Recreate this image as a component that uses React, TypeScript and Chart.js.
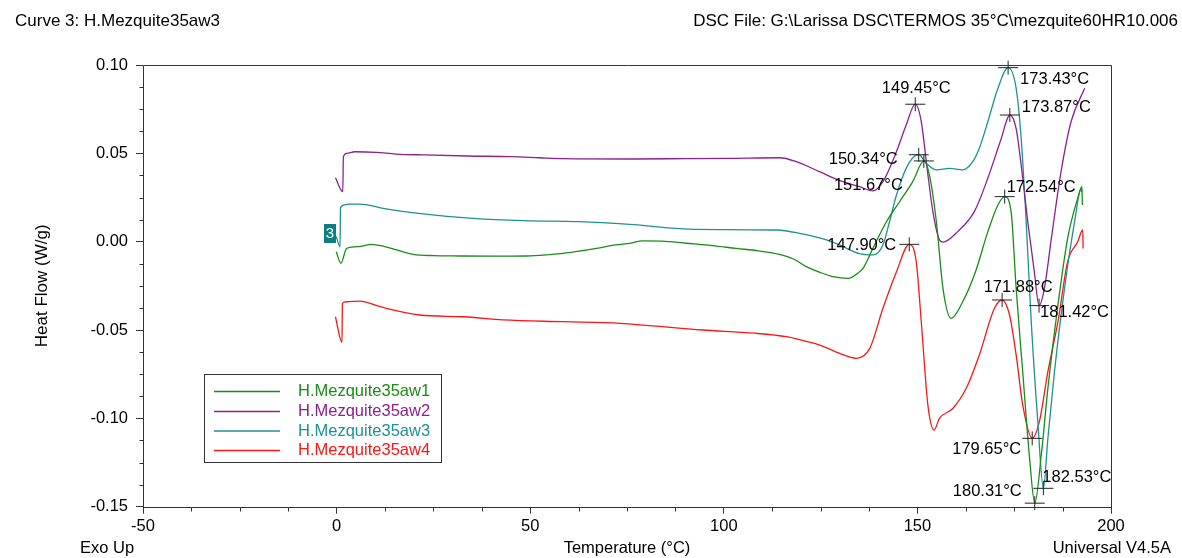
import { useEffect, useRef } from 'react';
import { Chart, registerables } from 'chart.js';

Chart.register(...registerables);

const FONT = '"Liberation Sans", Arial, Helvetica, sans-serif';

// Sample names and trace colours
const seriesNames = ['H.Mezquite35aw1', 'H.Mezquite35aw2', 'H.Mezquite35aw3', 'H.Mezquite35aw4'];
const seriesColors = ['#168e16', '#8c2090', '#1d9292', '#ff1414'];

// Heat flow traces: [temperature °C, heat flow W/g]
const aw1: [number, number][] = [
  [-0.1, -0.0057], [1.1, -0.0122], [2.6, -0.0038], [6, -0.0028], [9, -0.0015], [12, -0.0025],
  [15.5, -0.0047], [19.8, -0.0072], [25, -0.0079], [31.9, -0.0081], [40, -0.0082], [49, -0.0081],
  [55, -0.0073], [58.5, -0.0066], [63, -0.0052], [67.1, -0.0038], [72, -0.0018], [75.7, -0.0009],
  [79.1, 0.0004], [84, 0.0003], [90.3, -0.0009], [97, -0.0022], [103.2, -0.0038], [109, -0.0052],
  [114.4, -0.0072], [118, -0.0098], [121.3, -0.0141], [125, -0.0175], [128.2, -0.0198],
  [132.2, -0.0208], [134.2, -0.0185], [136, -0.015], [138.5, -0.0038], [142, 0.0113],
  [145.4, 0.0226], [148.8, 0.034], [151.67, 0.0457], [153.1, 0.0378], [154.9, 0.0113],
  [156.6, -0.0264], [158.7, -0.0434], [161.7, -0.034], [165, -0.017], [168.2, 0.0057],
  [170.8, 0.0208], [172.54, 0.0255], [174.2, 0.017], [175.5, -0.0264], [177.2, -0.0736],
  [178.9, -0.1207], [180.31, -0.148], [182, -0.1207], [183.7, -0.083], [186.3, -0.0358],
  [188.8, 0.0019], [191.4, 0.0245], [192.5, 0.0311], [192.6, 0.0208],
];

const aw2: [number, number][] = [
  [-0.3, 0.0362], [1.6, 0.0283], [1.75, 0.0481], [2.6, 0.05], [4.7, 0.0509], [10.2, 0.0506],
  [15.3, 0.0496], [22.4, 0.0491], [33.9, 0.0485], [45.1, 0.0481], [52.4, 0.0475], [58.5, 0.047],
  [75.7, 0.0468], [90, 0.047], [101.5, 0.0472], [114.4, 0.0475], [118.7, 0.0453],
  [124.7, 0.0396], [130, 0.0345], [135.1, 0.0311], [138.5, 0.0287], [141.1, 0.034],
  [144.6, 0.051], [147.1, 0.066], [149.45, 0.0778], [151, 0.068], [152.4, 0.0434], [154, 0.017],
  [155.7, 0.001], [156.6, -0.0003], [160.4, 0.0057], [164.7, 0.017], [168.2, 0.036],
  [171.6, 0.058], [173.87, 0.0717], [175.5, 0.064], [176.8, 0.0434], [178.5, 0.0113],
  [180.2, -0.017], [181.42, -0.0362], [182.8, -0.0264], [184.6, 0.0019], [187.1, 0.0396],
  [189.7, 0.068], [193.2, 0.0868],
];

const aw3: [number, number][] = [
  [-0.1, 0.003], [0.9, -0.003], [1.0, 0.0192], [2.1, 0.0208], [3.4, 0.0213], [6, 0.0213],
  [12, 0.0189], [22.4, 0.0157], [35.3, 0.0132], [48.2, 0.0119], [62.8, 0.0113], [75.7, 0.0098],
  [92.9, 0.007], [113.6, 0.0066], [119.6, 0.0047], [126.5, 0.001], [130, -0.002], [135, -0.0068],
  [138.5, -0.0075], [141.1, -0.0019], [142.8, 0.0113], [144.6, 0.0264], [147.1, 0.0415],
  [149.3, 0.0485], [150.34, 0.0492], [152.3, 0.0444], [154.9, 0.0406], [158.3, 0.0415],
  [161.7, 0.0406], [164.3, 0.0453], [166, 0.0529], [168.2, 0.068], [170.8, 0.0868],
  [173.43, 0.0985], [175.5, 0.0868], [176.8, 0.0585], [178.1, 0.0113], [179.4, -0.0453],
  [181.1, -0.1019], [182.53, -0.1396], [183.7, -0.1113], [185.4, -0.0736], [188, -0.0264],
  [190.6, 0.0113], [192.3, 0.0302], [192.4, 0.028],
];

const aw4: [number, number][] = [
  [-0.3, -0.0425], [1.4, -0.057], [1.5, -0.0349], [2.6, -0.034], [6, -0.0336], [11.2, -0.0368],
  [21.5, -0.0415], [32.7, -0.0425], [43, -0.0443], [58.5, -0.0453], [73.1, -0.0462],
  [94.6, -0.05], [108, -0.0518], [116.2, -0.0538], [120.5, -0.056], [124.8, -0.0585],
  [129.9, -0.0632], [134.2, -0.066], [137.7, -0.0604], [141.1, -0.0377], [144.6, -0.017],
  [147.9, -0.0015], [149.7, -0.0113], [151, -0.0453], [152.7, -0.0924], [154.3, -0.1066],
  [155.7, -0.1], [159.2, -0.0943], [162.6, -0.083], [166, -0.0641], [169.9, -0.0377],
  [171.88, -0.033], [173.8, -0.0415], [175.5, -0.0641], [177.2, -0.0924], [179.65, -0.1113],
  [181.5, -0.1019], [183.7, -0.0736], [186.3, -0.0453], [188.8, -0.0113], [191.4, 0],
  [192.7, 0.0066], [192.8, -0.0038],
];

const seriesData = [aw1, aw2, aw3, aw4];

// Axis ticks
const xTickValues = [-50, 0, 50, 100, 150, 200];
const yTickValues = [-0.15, -0.1, -0.05, 0, 0.05, 0.1];

// Analysed peaks: which trace and at what temperature
const peakSeries = [1, 2, 0, 2, 1, 0, 3, 3, 1, 3, 2, 0];
const peakTemps = [149.45, 150.34, 151.67, 173.43, 173.87, 172.54, 147.9, 171.88, 181.42, 179.65, 182.53, 180.31];

// Where each peak label sits relative to its marker
const peakLabelPlacement: { dx: number; dy: number; align: CanvasTextAlign }[] = [
  { dx: 1, dy: -16, align: 'center' },
  { dx: -21, dy: 5, align: 'right' },
  { dx: -21, dy: 25, align: 'right' },
  { dx: 12, dy: 12, align: 'left' },
  { dx: 12, dy: -8, align: 'left' },
  { dx: 2, dy: -9, align: 'left' },
  { dx: -13, dy: 1, align: 'right' },
  { dx: 16, dy: -13, align: 'center' },
  { dx: 1, dy: 7, align: 'left' },
  { dx: -11, dy: 11, align: 'right' },
  { dx: -1, dy: -11, align: 'left' },
  { dx: -13, dy: -12, align: 'right' },
];

const fmtY = (v: number) => {
  const s = v.toFixed(2);
  return s === '-0.00' ? '0.00' : s;
};

const decorPlugin = {
  id: 'dscDecor',
  afterDraw(chart: any) {
    const { ctx, chartArea: a, scales } = chart;
    const xs = scales.x;
    const ys = scales.y;
    ctx.save();

    // frame
    ctx.strokeStyle = '#333';
    ctx.lineWidth = 1;
    const L = Math.round(a.left) + 0.5;
    const T = Math.round(a.top) + 0.5;
    const R = Math.round(a.right) + 0.5;
    const B = Math.round(a.bottom) + 0.5;
    ctx.beginPath();
    ctx.rect(L, T, R - L, B - T);
    ctx.stroke();

    // minor ticks: four divisions between major ticks
    ctx.beginPath();
    for (let i = 0; i < xTickValues.length - 1; i++) {
      const step = (xTickValues[i + 1] - xTickValues[i]) / 4;
      for (let k = 1; k < 4; k++) {
        const px = Math.round(xs.getPixelForValue(xTickValues[i] + k * step)) + 0.5;
        ctx.moveTo(px, B);
        ctx.lineTo(px, B + 4);
      }
    }
    for (let i = 0; i < yTickValues.length - 1; i++) {
      const step = (yTickValues[i + 1] - yTickValues[i]) / 4;
      for (let k = 1; k < 4; k++) {
        const py = Math.round(ys.getPixelForValue(yTickValues[i] + k * step)) + 0.5;
        ctx.moveTo(L, py);
        ctx.lineTo(L - 4, py);
      }
    }
    ctx.stroke();

    // peak markers and labels
    ctx.font = `16.5px ${FONT}`;
    ctx.textBaseline = 'middle';
    ctx.fillStyle = '#000';
    ctx.strokeStyle = '#222';
    peakTemps.forEach((t, i) => {
      const pts = seriesData[peakSeries[i]];
      const hit = pts.find((p) => p[0] === t);
      if (!hit) return;
      const px = xs.getPixelForValue(hit[0]);
      const py = ys.getPixelForValue(hit[1]);
      ctx.beginPath();
      ctx.moveTo(px - 10, py);
      ctx.lineTo(px + 10, py);
      ctx.moveTo(px, py - 7);
      ctx.lineTo(px, py + 7);
      ctx.stroke();
      const pl = peakLabelPlacement[i];
      ctx.textAlign = pl.align;
      ctx.fillText(`${t.toFixed(2)}°C`, px + pl.dx, py + pl.dy);
    });

    // curve number tag at the start of trace 3
    const start = aw3[0];
    const sx = xs.getPixelForValue(start[0]);
    const sy = ys.getPixelForValue(start[1]);
    ctx.fillStyle = '#0d7f80';
    ctx.fillRect(Math.round(sx) - 12, Math.round(sy) - 12, 12, 19);
    ctx.fillStyle = '#fff';
    ctx.font = `15px ${FONT}`;
    ctx.textAlign = 'center';
    ctx.fillText('3', Math.round(sx) - 6, Math.round(sy) - 2);

    // legend box
    const lx = 204.5, ly = 374.5, lw = 237, lh = 88;
    ctx.fillStyle = '#fff';
    ctx.fillRect(lx, ly, lw, lh);
    ctx.strokeStyle = '#333';
    ctx.lineWidth = 1;
    ctx.strokeRect(lx, ly, lw, lh);
    const rows = [391.5, 411.5, 431, 450.5];
    ctx.font = `16.5px ${FONT}`;
    ctx.textAlign = 'left';
    chart.data.datasets.forEach((ds: any, i: number) => {
      ctx.strokeStyle = ds.borderColor;
      ctx.lineWidth = 1.6;
      ctx.beginPath();
      ctx.moveTo(214, rows[i]);
      ctx.lineTo(280, rows[i]);
      ctx.stroke();
      ctx.fillStyle = ds.borderColor;
      ctx.fillText(ds.label, 298, rows[i]);
    });

    // header and footer texts
    ctx.fillStyle = '#000';
    ctx.font = `17px ${FONT}`;
    ctx.textAlign = 'left';
    ctx.fillText('Curve 3: H.Mezquite35aw3', 15, 21);
    ctx.textAlign = 'right';
    ctx.fillText('DSC File: G:\\Larissa DSC\\TERMOS 35°C\\mezquite60HR10.006', 1178, 21);
    ctx.font = `16.5px ${FONT}`;
    ctx.textAlign = 'left';
    ctx.fillText('Exo Up', 80, 548);
    ctx.textAlign = 'right';
    ctx.fillText('Universal V4.5A', 1171, 548);

    ctx.restore();
  },
};

export default function App() {
  const canvasRef = useRef<HTMLCanvasElement | null>(null);

  useEffect(() => {
    const canvas = canvasRef.current;
    if (!canvas) return;
    const tickFont = { family: FONT, size: 16.5 };
    const chart = new Chart(canvas, {
      type: 'line',
      data: {
        datasets: seriesData.map((pts, i) => ({
          label: seriesNames[i],
          data: pts.map(([x, y]) => ({ x, y })),
          borderColor: seriesColors[i],
          backgroundColor: seriesColors[i],
          borderWidth: 1.3,
          pointRadius: 0,
          fill: false,
          cubicInterpolationMode: 'monotone' as const,
        })),
      },
      options: {
        responsive: false,
        animation: false,
        events: [],
        devicePixelRatio: 1,
        layout: { padding: { top: 65, right: 71, left: 0, bottom: 0 } },
        plugins: {
          legend: { display: false },
          tooltip: { enabled: false },
        },
        scales: {
          x: {
            type: 'linear',
            min: -50,
            max: 200,
            afterBuildTicks: (axis: any) => {
              axis.ticks = xTickValues.map((value) => ({ value }));
            },
            afterFit: (scale: any) => {
              scale.height = 51.3;
            },
            grid: { drawOnChartArea: false, drawTicks: true, tickLength: 7, color: '#333' },
            border: { display: false },
            ticks: {
              color: '#000',
              font: tickFont,
              padding: 3,
              maxRotation: 0,
              autoSkip: false,
              callback: (v: any) => String(v),
            },
            title: {
              display: true,
              text: 'Temperature (°C)',
              color: '#000',
              font: tickFont,
              padding: { top: 0, bottom: 0 },
            },
          },
          y: {
            type: 'linear',
            min: -0.15,
            max: 0.1,
            afterBuildTicks: (axis: any) => {
              axis.ticks = yTickValues.map((value) => ({ value }));
            },
            afterFit: (scale: any) => {
              scale.width = 143;
            },
            grid: { drawOnChartArea: false, drawTicks: true, tickLength: 7, color: '#333' },
            border: { display: false },
            ticks: {
              color: '#000',
              font: tickFont,
              padding: 8,
              autoSkip: false,
              callback: (v: any) => fmtY(Number(v)),
            },
            title: {
              display: true,
              text: 'Heat Flow (W/g)',
              color: '#000',
              font: { family: FONT, size: 17 },
              padding: { top: 32, bottom: 0 },
            },
          },
        },
      },
      plugins: [decorPlugin],
    });
    return () => chart.destroy();
  }, []);

  return (
    <div style={{ position: 'absolute', left: 0, top: 0, width: 1182, height: 558, background: '#fff' }}>
      <canvas ref={canvasRef} width={1182} height={558} style={{ display: 'block' }} />
    </div>
  );
}
